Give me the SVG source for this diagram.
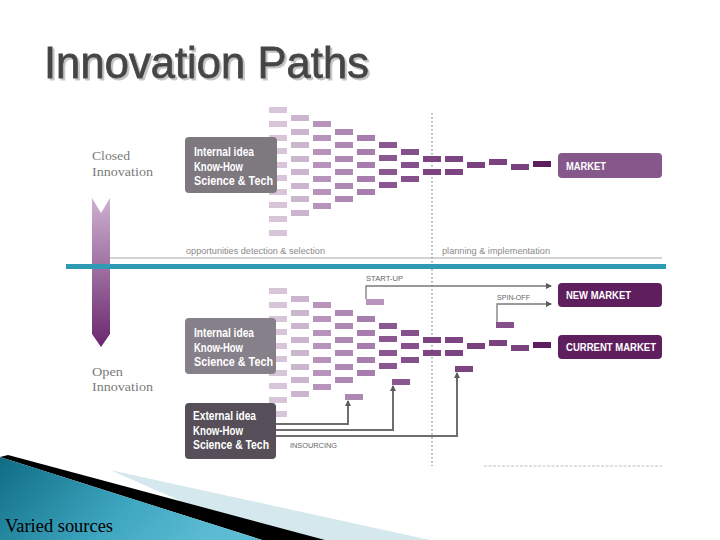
<svg xmlns="http://www.w3.org/2000/svg" xmlns:xlink="http://www.w3.org/1999/xlink" width="720" height="540" viewBox="0 0 720 540">
<defs>
  <style>
    .c1{fill:#d8c5da}.c2{fill:#ccb6cf}.c3{fill:#b893bc}.c4{fill:#ad88b2}.c5{fill:#a67ead}
    .c6{fill:#8b5791}.c7{fill:#85508b}.c8{fill:#7c4582}.c10{fill:#7a4380}.c13{fill:#5c1e5e}
    .bx{font-family:"Liberation Sans Narrow","Liberation Sans",Arial,sans-serif;font-size:12px;font-weight:bold;fill:#ffffff}
    .mk{font-family:"Liberation Sans Narrow","Liberation Sans",Arial,sans-serif;font-size:10px;font-weight:bold;fill:#ffffff}
    .sm{font-family:"Liberation Sans",Arial,sans-serif;font-size:7px;fill:#666666}
    .ph{font-family:"Liberation Sans",Arial,sans-serif;font-size:8.5px;fill:#8a8a8a}
    .sd{font-family:"Liberation Serif","Times New Roman",serif;font-size:13px;fill:#7a7a7a}
    .conn{fill:none;stroke:#6e6e6e;stroke-width:2}
    .thin{fill:none;stroke:#7a7a7a;stroke-width:1.3}
  </style>
  <linearGradient id="arrowGrad" x1="0" y1="0" x2="0" y2="1">
    <stop offset="0" stop-color="#cdb0d0"/>
    <stop offset="1" stop-color="#6a276d"/>
  </linearGradient>
  <linearGradient id="tealGrad" x1="0" y1="0" x2="1" y2="0.3">
    <stop offset="0" stop-color="#0f6c84"/>
    <stop offset="0.6" stop-color="#3ea6c0"/>
    <stop offset="1" stop-color="#5cbcd4"/>
  </linearGradient>
  <filter id="shadow" x="-5%" y="-20%" width="110%" height="140%">
    <feDropShadow dx="2" dy="2" stdDeviation="0.6" flood-color="#c4c4c4" flood-opacity="1"/>
  </filter>
  <marker id="ah" markerWidth="6" markerHeight="6" refX="5" refY="3" orient="auto" markerUnits="userSpaceOnUse">
    <path d="M0,0 L6,3 L0,6 Z" fill="#5a5a5a"/>
  </marker>
</defs>

<rect x="0" y="0" width="720" height="540" fill="#ffffff"/>

<!-- title -->
<text x="44" y="78" font-family="'Liberation Sans',Arial,sans-serif" font-size="44" fill="#454545" stroke="#454545" stroke-width="0.8" filter="url(#shadow)" textLength="325" lengthAdjust="spacingAndGlyphs">Innovation Paths</text>

<!-- bottom-left decoration -->
<g id="decoration">
  <polygon points="110,470 430,540 270,540" fill="#d4e8ee"/>
  <polygon points="8,455 325,540 262,540 0,457" fill="#000000"/>
  <polygon points="0,457 262,540 0,540" fill="url(#tealGrad)"/>
  <text x="5" y="532" font-family="'Liberation Serif','Times New Roman',serif" font-size="18" fill="#000000" textLength="108" lengthAdjust="spacingAndGlyphs">Varied sources</text>
</g>

<!-- left arrow -->
<g id="closed-open-arrow">
  <path d="M92,198 L101,213 L110,198 L110,334 L101,347 L92,334 Z" fill="url(#arrowGrad)"/>
  <text class="sd" x="92" y="160" textLength="38" lengthAdjust="spacingAndGlyphs">Closed</text>
  <text class="sd" x="92" y="176" textLength="61" lengthAdjust="spacingAndGlyphs">Innovation</text>
  <text class="sd" x="92" y="376" textLength="31" lengthAdjust="spacingAndGlyphs">Open</text>
  <text class="sd" x="92" y="391" textLength="61" lengthAdjust="spacingAndGlyphs">Innovation</text>
</g>

<!-- phase lines -->
<g id="phases">
  <line x1="110" y1="258" x2="662" y2="258" stroke="#c4c4c4" stroke-width="1.5"/>
  <line x1="432" y1="113" x2="432" y2="466" stroke="#9a9a9a" stroke-width="1.5" stroke-dasharray="1.5 2.5"/>
  <text class="ph" x="186" y="254" textLength="139" lengthAdjust="spacingAndGlyphs">opportunities detection &amp; selection</text>
  <text class="ph" x="442" y="254" textLength="108" lengthAdjust="spacingAndGlyphs">planning &amp; implementation</text>
  <line x1="484" y1="466" x2="662" y2="466" stroke="#d6d6d6" stroke-width="1.5" stroke-dasharray="3 1.5"/>
</g>

<!-- idea bars (closed innovation) -->
<g id="bars-closed">
  <g class="c1">
    <rect x="269" y="107" width="18" height="6"/><rect x="269" y="121" width="18" height="6"/>
    <rect x="269" y="135" width="18" height="6"/><rect x="269" y="148" width="18" height="6"/>
    <rect x="269" y="162" width="18" height="6"/><rect x="269" y="175" width="18" height="6"/>
    <rect x="269" y="189" width="18" height="6"/><rect x="269" y="202" width="18" height="6"/>
    <rect x="269" y="216" width="18" height="6"/><rect x="269" y="230" width="18" height="6"/>
  </g>
  <g class="c2">
    <rect x="291" y="115" width="18" height="6"/><rect x="291" y="129" width="18" height="6"/>
    <rect x="291" y="142" width="18" height="6"/><rect x="291" y="156" width="18" height="6"/>
    <rect x="291" y="169" width="18" height="6"/><rect x="291" y="183" width="18" height="6"/>
    <rect x="291" y="196" width="18" height="6"/><rect x="291" y="210" width="18" height="6"/>
  </g>
  <g class="c3">
    <rect x="313" y="121" width="18" height="6"/><rect x="313" y="135" width="18" height="6"/>
    <rect x="313" y="149" width="18" height="6"/><rect x="313" y="162" width="18" height="6"/>
    <rect x="313" y="176" width="18" height="6"/><rect x="313" y="189" width="18" height="6"/>
    <rect x="313" y="203" width="18" height="6"/>
  </g>
  <g class="c4">
    <rect x="335" y="129" width="18" height="6"/><rect x="335" y="142" width="18" height="6"/>
    <rect x="335" y="156" width="18" height="6"/><rect x="335" y="169" width="18" height="6"/>
    <rect x="335" y="183" width="18" height="6"/><rect x="335" y="196" width="18" height="6"/>
  </g>
  <g class="c5">
    <rect x="357" y="135" width="18" height="6"/><rect x="357" y="149" width="18" height="6"/>
    <rect x="357" y="162" width="18" height="6"/><rect x="357" y="176" width="18" height="6"/>
    <rect x="357" y="189" width="18" height="6"/>
  </g>
  <g class="c6">
    <rect x="379" y="142" width="18" height="6"/><rect x="379" y="155" width="18" height="6"/>
    <rect x="379" y="169" width="18" height="6"/><rect x="379" y="182" width="18" height="6"/>
  </g>
  <g class="c7">
    <rect x="401" y="149" width="18" height="6"/><rect x="401" y="162" width="18" height="6"/>
    <rect x="401" y="176" width="18" height="6"/>
  </g>
  <g class="c8">
    <rect x="423" y="156" width="18" height="6"/><rect x="423" y="169" width="18" height="6"/>
    <rect x="445" y="156" width="18" height="6"/><rect x="445" y="169" width="18" height="6"/>
  </g>
  <g class="c10">
    <rect x="467" y="162" width="18" height="6"/>
    <rect x="489" y="159" width="18" height="6"/>
    <rect x="511" y="164" width="18" height="6"/>
  </g>
  <rect class="c13" x="533" y="161" width="18" height="6"/>
</g>

<!-- idea bars (open innovation) -->
<g id="bars-open">
  <use xlink:href="#bars-closed" href="#bars-closed" x="0" y="181"/>
  <rect class="c3" x="366" y="299" width="18" height="6"/>
  <rect class="c7" x="496" y="322" width="18" height="6"/>
  <rect class="c4" x="345" y="394" width="18" height="6"/>
  <rect class="c6" x="392" y="379" width="18" height="6"/>
  <rect class="c8" x="455" y="366" width="18" height="6"/>
</g>

<!-- connectors -->
<g id="connectors">
  <path class="thin" d="M366,299 V286 H551" marker-end="url(#ah)"/>
  <path class="thin" d="M497,322 V304 H551" marker-end="url(#ah)"/>
  <path class="conn" d="M276,424 H348 V401" marker-end="url(#ah)"/>
  <path class="conn" d="M276,430 H393 V386" marker-end="url(#ah)"/>
  <path class="conn" d="M276,436 H457 V373" marker-end="url(#ah)"/>
  <text class="sm" x="366" y="281" textLength="37" lengthAdjust="spacingAndGlyphs">START-UP</text>
  <text class="sm" x="497" y="300" textLength="33" lengthAdjust="spacingAndGlyphs">SPIN-OFF</text>
  <text class="sm" x="290" y="448" textLength="47" lengthAdjust="spacingAndGlyphs">INSOURCING</text>
</g>

<!-- nodes -->
<g id="internal-closed">
  <rect x="185" y="137" width="92" height="56" rx="4" fill="#7e787f"/>
  <text class="bx" x="194" y="156" textLength="60" lengthAdjust="spacingAndGlyphs">Internal idea</text>
  <text class="bx" x="194" y="171" textLength="49" lengthAdjust="spacingAndGlyphs">Know-How</text>
  <text class="bx" x="194" y="185" textLength="79" lengthAdjust="spacingAndGlyphs">Science &amp; Tech</text>
</g>
<g id="internal-open">
  <rect x="185" y="318" width="91" height="56" rx="4" fill="#86808a"/>
  <text class="bx" x="194" y="337" textLength="60" lengthAdjust="spacingAndGlyphs">Internal idea</text>
  <text class="bx" x="194" y="352" textLength="49" lengthAdjust="spacingAndGlyphs">Know-How</text>
  <text class="bx" x="194" y="366" textLength="79" lengthAdjust="spacingAndGlyphs">Science &amp; Tech</text>
</g>
<g id="external-open">
  <rect x="185" y="403" width="91" height="56" rx="4" fill="#564f59"/>
  <text class="bx" x="193" y="420" textLength="63" lengthAdjust="spacingAndGlyphs">External idea</text>
  <text class="bx" x="193" y="435" textLength="50" lengthAdjust="spacingAndGlyphs">Know-How</text>
  <text class="bx" x="193" y="449" textLength="76" lengthAdjust="spacingAndGlyphs">Science &amp; Tech</text>
</g>
<g id="market">
  <rect x="558" y="153" width="104" height="25" rx="4" fill="#85578b"/>
  <text class="mk" x="566" y="170" textLength="40" lengthAdjust="spacingAndGlyphs">MARKET</text>
</g>
<g id="new-market">
  <rect x="558" y="283" width="104" height="24" rx="4" fill="#5f1f5f"/>
  <text class="mk" x="566" y="299" textLength="65" lengthAdjust="spacingAndGlyphs">NEW MARKET</text>
</g>
<g id="current-market">
  <rect x="558" y="335" width="104" height="24" rx="4" fill="#5f1f5f"/>
  <text class="mk" x="566" y="351" textLength="90" lengthAdjust="spacingAndGlyphs">CURRENT MARKET</text>
</g>

<!-- divider -->
<rect id="divider" x="66" y="264" width="600" height="5" fill="#2f9ab3"/>
</svg>
